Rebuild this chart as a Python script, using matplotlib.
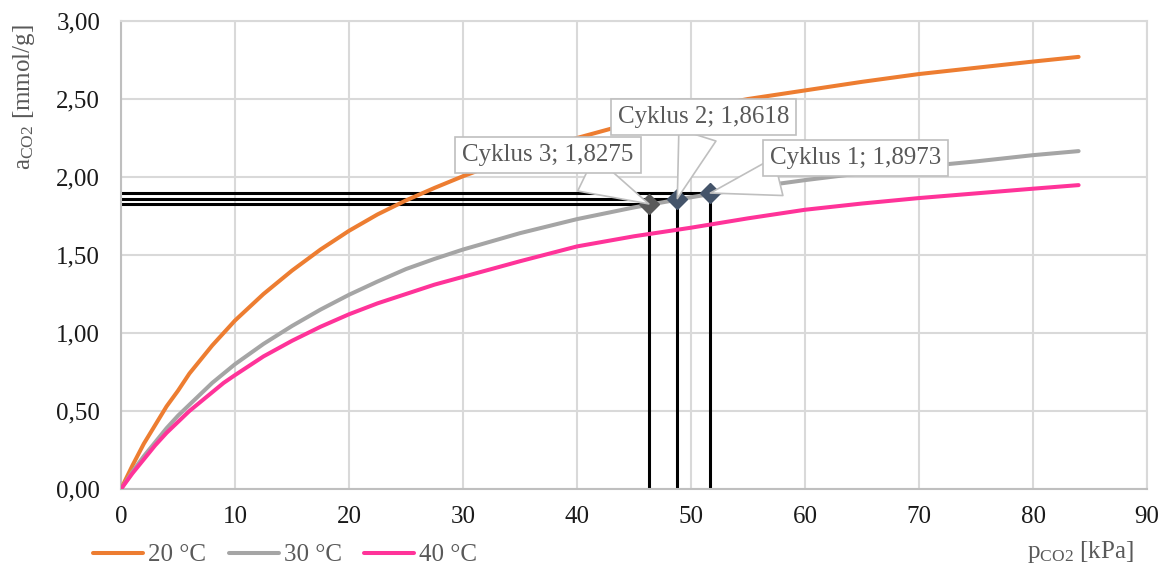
import numpy as np
import matplotlib
matplotlib.use("Agg")
import matplotlib.pyplot as plt

plt.rcParams["font.family"] = "Liberation Serif"
plt.rcParams["mathtext.fontset"] = "custom"
plt.rcParams["mathtext.rm"] = "Liberation Serif"
plt.rcParams["mathtext.it"] = "Liberation Serif:italic"

# isotherm data (p in kPa, a in mmol/g)
p = [0, 1, 2, 3, 4, 5, 6, 7, 8, 9, 10, 12.5, 15, 17.5, 20, 22.5, 25, 27.5, 30,
     35, 40, 45, 50, 55, 60, 65, 70, 75, 80, 84]
a_20 = [0, 0.15, 0.29, 0.41, 0.53, 0.63, 0.74, 0.83, 0.92, 1.00, 1.08, 1.25,
        1.40, 1.535, 1.655, 1.76, 1.85, 1.93, 2.005, 2.14, 2.25, 2.35, 2.43,
        2.50, 2.555, 2.61, 2.66, 2.70, 2.74, 2.77]
a_30 = [0, 0.11, 0.21, 0.30, 0.39, 0.47, 0.54, 0.61, 0.68, 0.74, 0.80, 0.93,
        1.045, 1.15, 1.245, 1.33, 1.41, 1.475, 1.535, 1.64, 1.73, 1.805, 1.87,
        1.93, 1.98, 2.025, 2.065, 2.10, 2.14, 2.166]
a_40 = [0, 0.10, 0.19, 0.28, 0.36, 0.43, 0.50, 0.56, 0.62, 0.68, 0.73, 0.85,
        0.95, 1.04, 1.12, 1.19, 1.25, 1.31, 1.36, 1.46, 1.555, 1.62, 1.675,
        1.735, 1.79, 1.83, 1.865, 1.895, 1.925, 1.948]
series_labels = ["20 °C", "30 °C", "40 °C"]
series_colors = ["#ED7D31", "#A5A5A5", "#FF3399"]

# measured cycles
cyc_names = ["Cyklus 1", "Cyklus 2", "Cyklus 3"]
cyc_p = [51.7, 48.8, 46.3]
cyc_a = [1.8973, 1.8618, 1.8275]
cyc_colors = ["#44546A", "#44546A", "#595959"]
# callout offsets in pixels (layout only)
cyc_offsets = [(145, 35), (26, 82), (-101, 49)]

fig = plt.figure(figsize=(11.59, 5.66), dpi=100)
ax = fig.add_axes([121 / 1159, 77 / 566, 1026 / 1159, 468 / 566])

# black guide lines to the axes
for x, y in zip(cyc_p, cyc_a):
    ax.plot([0, x], [y, y], color="black", lw=2.2, zorder=2, solid_capstyle="butt")
    ax.plot([x, x], [0, y], color="black", lw=2.2, zorder=2, solid_capstyle="butt")

for ys, lab, col in zip([a_20, a_30, a_40], series_labels, series_colors):
    ax.plot(p, ys, color=col, lw=2.9, label=lab, zorder=3,
            solid_capstyle="round", solid_joinstyle="round")

for name, x, y, col, off in zip(cyc_names, cyc_p, cyc_a, cyc_colors, cyc_offsets):
    ax.plot(x, y, marker="D", ms=10, color=col, zorder=5)
    txt = f"{name}; {y:.4f}".replace(".", ",")
    ax.annotate(txt, xy=(x, y), xytext=off, textcoords="offset pixels",
                ha="center", va="center", fontsize=18, color="#595959", zorder=6,
                bbox=dict(boxstyle="square,pad=0.28", fc="white", ec="#BFBFBF", lw=1.2),
                arrowprops=dict(arrowstyle="wedge,tail_width=1.4", mutation_scale=20,
                                fc="white", ec="#BFBFBF", lw=1.2,
                                shrinkA=0, shrinkB=0))

ax.set_xlim(0, 90)
ax.set_ylim(0, 3)
ax.set_xticks(np.arange(0, 91, 10))
ax.set_yticks(np.arange(0, 3.01, 0.5))
ax.set_yticklabels([f"{v:.2f}".replace(".", ",") for v in np.arange(0, 3.01, 0.5)])
ax.grid(True, color="#D9D9D9", lw=1.5)
ax.set_axisbelow(True)
for s in ax.spines.values():
    s.set_color("#D9D9D9")
    s.set_linewidth(1.5)
ax.spines["left"].set_color("#BFBFBF")
ax.spines["bottom"].set_color("#BFBFBF")
ax.tick_params(length=0, labelsize=18, labelcolor="#1a1a1a")
ax.tick_params(axis="x", pad=12)
ax.tick_params(axis="y", pad=15)

ax.set_ylabel(r"a$_{\mathrm{CO2}}$ [mmol/g]", fontsize=18, color="#595959", va="center")
ax.yaxis.set_label_coords(-0.0945, 0.837)
ax.set_xlabel(r"p$_{\mathrm{CO2}}$ [kPa]", fontsize=18, color="#595959", va="center")
ax.xaxis.set_label_coords(0.935, -0.135)

fig.legend(loc="center left", bbox_to_anchor=(93 / 1159, 1 - 555 / 566), ncol=3,
           frameon=False, fontsize=18, handlelength=2.0, handletextpad=0.2,
           columnspacing=0.9, borderaxespad=0, borderpad=0, labelcolor="#595959")

fig.savefig("out.png", dpi=100)
